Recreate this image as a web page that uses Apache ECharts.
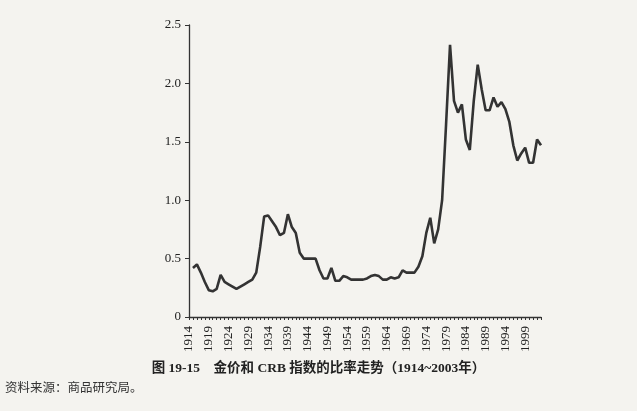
<!DOCTYPE html>
<html>
<head>
<meta charset="utf-8">
<script src="https://cdn.jsdelivr.net/npm/echarts@6/dist/echarts.min.js"></script>
<style>
  html, body { margin: 0; padding: 0; background: #f4f3ef; }
  #chart { width: 637px; height: 411px; }
</style>
</head>
<body>
<div id="chart"></div>
<script>
// years on the x axis (one tick per year)
var years = [];
for (var y = 1914; y <= 2003; y++) years.push(String(y));

// gold / CRB ratio (1914 has no value)
var ratio = [
  '-', 0.42, 0.45, 0.38, 0.30, 0.23, 0.22, 0.24, 0.36, 0.30,
  0.28, 0.26, 0.24, 0.26, 0.28, 0.30, 0.32, 0.38, 0.60, 0.86,
  0.87, 0.82, 0.77, 0.70, 0.72, 0.88, 0.77, 0.72, 0.55, 0.50,
  0.50, 0.50, 0.50, 0.40, 0.33, 0.33, 0.42, 0.31, 0.31, 0.35,
  0.34, 0.32, 0.32, 0.32, 0.32, 0.33, 0.35, 0.36, 0.35, 0.32,
  0.32, 0.34, 0.33, 0.34, 0.40, 0.38, 0.38, 0.38, 0.43, 0.52,
  0.72, 0.85, 0.63, 0.75, 1.00, 1.65, 2.33, 1.85, 1.75, 1.82,
  1.52, 1.43, 1.85, 2.16, 1.95, 1.77, 1.77, 1.88, 1.80, 1.84,
  1.78, 1.67, 1.47, 1.34, 1.40, 1.45, 1.32, 1.32, 1.52, 1.47
];

var caption = '图 19-15　金价和 CRB 指数的比率走势（1914~2003年）';
var source = '资料来源：商品研究局。';

var serif = '"Liberation Serif", "Noto Sans CJK SC", serif';
var ink = '#333';

var myChart = echarts.init(document.getElementById('chart'));
myChart.setOption({
  backgroundColor: '#f4f3ef',
  animation: false,
  grid: { left: 189, right: 96, top: 25, bottom: 94 },
  xAxis: {
    type: 'category',
    data: years,
    boundaryGap: false,
    axisLine: { lineStyle: { color: ink, width: 1.3 } },
    axisTick: { interval: 0, length: 3, lineStyle: { color: ink } },
    axisLabel: {
      interval: 4,
      rotate: 90,
      margin: 9,
      color: '#222',
      fontFamily: serif,
      fontSize: 13
    }
  },
  yAxis: {
    type: 'value',
    min: 0,
    max: 2.5,
    interval: 0.5,
    splitLine: { show: false },
    axisLine: { show: true, lineStyle: { color: ink, width: 1.3 } },
    axisTick: { show: true, length: 4, lineStyle: { color: ink } },
    axisLabel: {
      margin: 8,
      color: '#222',
      fontFamily: serif,
      fontSize: 13,
      formatter: function (v) { return v === 0 ? '0' : v.toFixed(1); }
    }
  },
  series: [{
    type: 'line',
    data: ratio,
    symbol: 'none',
    lineStyle: { color: ink, width: 2.6 }
  }],
  graphic: [
    {
      type: 'text',
      left: 'center',
      top: 362,
      style: {
        text: caption,
        fill: '#222',
        font: 'bold 13.5px "Liberation Serif", "Noto Sans CJK SC", serif'
      }
    },
    {
      type: 'text',
      left: 5,
      top: 381,
      style: {
        text: source,
        fill: '#333',
        font: '12.5px "Noto Sans CJK SC", serif'
      }
    }
  ]
});
</script>
</body>
</html>
